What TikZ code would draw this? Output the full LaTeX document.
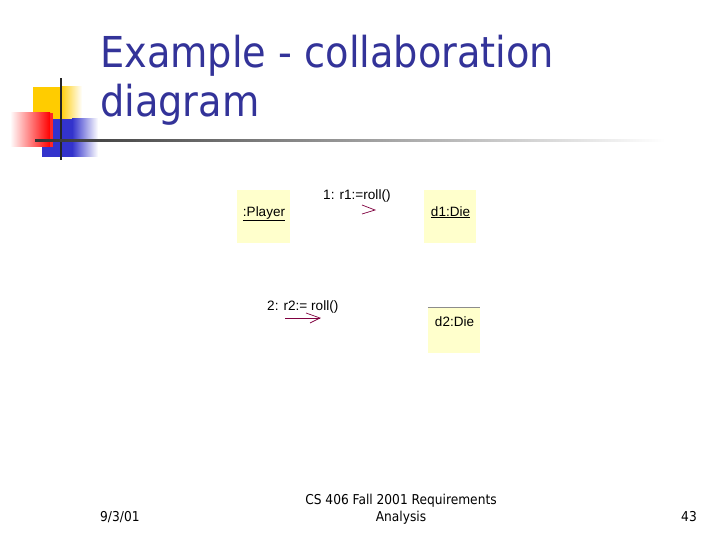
\documentclass[tikz,border=0pt]{standalone}
\usepackage{fontspec}
\setmainfont{Liberation Sans}
\newfontfamily\titlefont{DejaVu Sans Condensed}
\newfontfamily\footfont{DejaVu Sans Condensed}
\definecolor{titleblue}{RGB}{51,51,153}
\definecolor{boxyellow}{RGB}{255,255,204}
\definecolor{decoyellow}{RGB}{255,204,0}
\definecolor{decored}{RGB}{255,0,0}
\definecolor{decoblue}{RGB}{51,51,204}
\definecolor{msgpurple}{RGB}{128,0,64}
\tikzset{
  objbox/.style={fill=boxyellow, draw=none, minimum width=53pt, minimum height=53pt, inner sep=0pt},
  objtext/.style={font=\fontsize{13.5}{15}\selectfont, inner sep=0pt, anchor=base},
  msgtext/.style={font=\fontsize{13.6}{15}\selectfont, inner sep=0pt, anchor=base west},
  msgarrow/.style={draw=msgpurple, line width=0.7pt},
  foot/.style={font=\footfont\fontsize{13.6}{15}\selectfont, inner sep=0pt, anchor=base}
}
\begin{document}
\begin{tikzpicture}[x=1pt,y=-1pt]
\useasboundingbox (0,0) rectangle (720,540);
\fill[white] (0,0) rectangle (720,540);
% decoration
\fill[decoyellow] (33,87) rectangle (60,120);
\shade[left color=decoyellow, right color=white] (60,87) rectangle (82,120);
\fill[decoblue] (42,119) rectangle (72,157);
\shade[left color=decoblue, right color=white] (72,119) rectangle (98,157);
\shade[left color=white, right color=decored] (10,113) rectangle (50,147);
\fill[decored!85] (50,113) rectangle (53,147);
\fill[black!85] (60,78) rectangle (62,160);
\shade[left color=black!80, right color=white] (35,139.5) rectangle (665,141.5);
% title
\node[anchor=base west, inner sep=0pt, text=titleblue, font=\titlefont\fontsize{42.6}{48}\selectfont] (t1) at (100,68) {Example - collaboration};
\node[anchor=base west, inner sep=0pt, text=titleblue, font=\titlefont\fontsize{42.6}{48}\selectfont] (t2) at (100,117) {diagram};
% objects
\node[objbox, minimum width=53pt, minimum height=53pt] (player) at (263.5,216.5) {};
\node[objtext] (playert) at (264,216) {\underline{:Player}};
\node[objbox, minimum width=52pt, minimum height=53pt] (d1) at (450,216.5) {};
\node[objtext] (d1t) at (450.5,216) {\underline{d1:Die}};
\node[objbox, minimum width=52pt, minimum height=46pt] (d2) at (454,330) {};
\draw[black!45, line width=0.6pt] (d2.north west) -- (d2.north east);
\node[objtext] (d2t) at (454.5,326) {d2:Die};
% messages
\node[msgtext] (m1) at (323,200) {1: r1:=roll()};
\coordinate (a1t) at (362,205);
\coordinate (a1m) at (375,210);
\coordinate (a1b) at (362,214);
\draw[msgarrow] (a1t) -- (a1m) -- (a1b);
\node[msgtext] (m2) at (267,310) {2: r2:= roll()};
\coordinate (a2s) at (285,318);
\coordinate (a2e) at (320,318);
\draw[msgarrow] (a2s) -- (a2e);
\coordinate (a2t) at (306,313);
\coordinate (a2b) at (310,323);
\draw[msgarrow] (a2t) -- (a2e) -- (a2b);
% footer
\node[foot, anchor=base west] (date) at (100,521) {9/3/01};
\node[foot] (f1) at (401,504) {CS 406 Fall 2001 Requirements};
\node[foot] (f2) at (401,521) {Analysis};
\node[foot, anchor=base east] (page) at (697,521) {43};
\end{tikzpicture}
\end{document}
